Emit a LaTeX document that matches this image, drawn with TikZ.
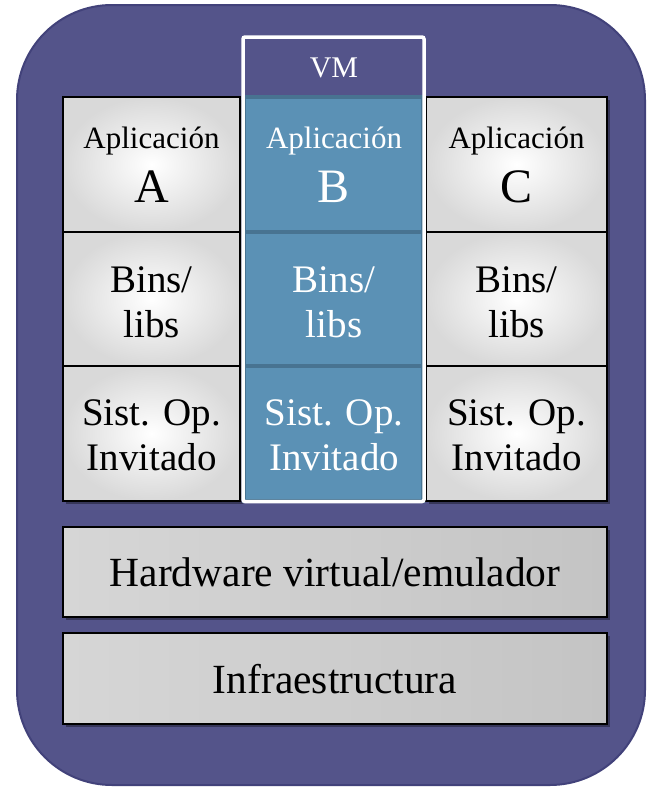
\documentclass[tikz,border=0pt]{standalone}
\usepackage{fontspec}
\setmainfont{Liberation Serif}
\usetikzlibrary{shadows}
\definecolor{bgpurple}{HTML}{54548A}
\definecolor{bgborder}{HTML}{42427A}
\definecolor{vmblue}{HTML}{5B91B5}
\definecolor{vmblueline}{HTML}{487391}
\definecolor{cellgray}{HTML}{D9D9D9}
\definecolor{layerleft}{HTML}{D6D6D6}
\definecolor{layermid}{HTML}{F8F8F8}
\definecolor{layerright}{HTML}{C4C4C4}
\begin{document}
\begin{tikzpicture}[x=1pt,y=-1pt,
  outerbox/.style={draw=bgborder, line width=2pt, fill=bgpurple, rounded corners=95pt, inner sep=0pt},
  graycell/.style={draw=black, line width=1.6pt, inner color=white, outer color=cellgray, inner sep=0pt,
    drop shadow={shadow xshift=3pt, shadow yshift=-3pt, opacity=0.35, fill=black}},
  layerbox/.style={draw=black, line width=1.6pt, left color=layerleft, middle color=layermid, right color=layerright, inner sep=0pt,
    minimum width=544pt, drop shadow={shadow xshift=3pt, shadow yshift=-3pt, opacity=0.35, fill=black}},
  bluecell/.style={draw=vmblueline, line width=3.2pt, fill=vmblue, inner sep=0pt, minimum width=179pt},
  vmframe/.style={draw=white, line width=3.5pt, rounded corners=2pt, inner sep=0pt},
  txt/.style={anchor=base, inner sep=0pt},
  fsmall/.style={font=\fontsize{31}{36}\selectfont},
  fbig/.style={font=\fontsize{48}{54}\selectfont},
  fmid/.style={font=\fontsize{39}{45}\selectfont},
  flayer/.style={font=\fontsize{41.5}{48}\selectfont},
  fvm/.style={font=\fontsize{30}{34}\selectfont}
]
\useasboundingbox (0,0) rectangle (646,787);
% outer container
\node[outerbox, minimum width=628pt, minimum height=780pt] (outer) at (331,395) {};

% side columns (A and C)
\foreach \c/\x/\w/\L in {a/151.5/177/A, c/516.5/181/C} {
  \node[graycell, minimum width=\w pt, minimum height=135pt] (\c1) at (\x,164.5) {};
  \node[graycell, minimum width=\w pt, minimum height=134pt] (\c2) at (\x,299) {};
  \node[graycell, minimum width=\w pt, minimum height=135pt] (\c3) at (\x,433.5) {};
  \node[txt, fsmall] (\c1t1) at (\x,148) {Aplicación};
  \node[txt, fbig] (\c1t2) at (\x,202) {\L};
  \node[txt, fmid] (\c2t1) at (\x,292) {Bins/};
  \node[txt, fmid] (\c2t2) at (\x,337) {libs};
  \node[txt, fmid] (\c3t1) at (\x,425) {Sist. Op.};
  \node[txt, fmid] (\c3t2) at (\x,470) {Invitado};
}

% VM column (B)
\node[bluecell, minimum height=135pt] (b1) at (333.5,164.5) {};
\node[bluecell, minimum height=134pt] (b2) at (333.5,299) {};
\node[bluecell, minimum height=135pt] (b3) at (333.5,433.5) {};
\node[vmframe, minimum width=181pt, minimum height=464.5pt] (vm) at (333.5,269.25) {};
\node[txt, fvm, text=white] (vmt) at (334,77) {VM};
\node[txt, fsmall, text=white] (b1t1) at (334,148) {Aplicación};
\node[txt, fbig, text=white] (b1t2) at (334,202) {B};
\node[txt, fmid, text=white] (b2t1) at (334,292) {Bins/};
\node[txt, fmid, text=white] (b2t2) at (334,337) {libs};
\node[txt, fmid, text=white] (b3t1) at (334,425) {Sist. Op.};
\node[txt, fmid, text=white] (b3t2) at (334,470) {Invitado};

% bottom layers
\node[layerbox, minimum height=90pt] (hw) at (335,572) {};
\node[txt, flayer] (hwt) at (335,586.5) {Hardware virtual/emulador};
\node[layerbox, minimum height=91pt] (inf) at (335,678.5) {};
\node[txt, flayer] (inft) at (335,693.5) {Infraestructura};
\end{tikzpicture}
\end{document}
